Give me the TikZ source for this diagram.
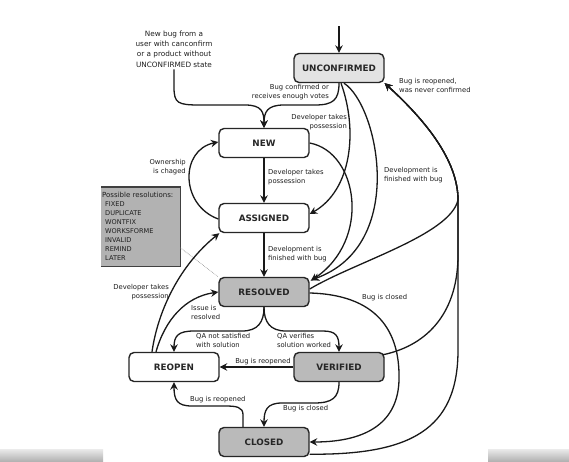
\documentclass[tikz,border=0pt]{standalone}
\usepackage{fontspec}
\setmainfont{DejaVu Sans}
\usetikzlibrary{arrows.meta}
\begin{document}
\begin{tikzpicture}[x=1pt,y=-1pt,
  state/.style={draw=black!85, line width=1.4pt, rounded corners=5pt, minimum width=90pt, minimum height=29pt, font=\fontsize{8.8}{10}\selectfont\bfseries, inner sep=0pt, text=black!85},
  light/.style={state, fill=black!11},
  dark/.style={state, fill=black!27},
  plain/.style={state, fill=white},
  edge/.style={draw=black!90, line width=1.3pt, -{Stealth[length=7.5pt,width=7.5pt,inset=2.5pt]}},
  lbl/.style={font=\fontsize{6.8}{9}\selectfont, text=black!88, inner sep=0pt},
]
\useasboundingbox (0,0) rectangle (569,461);
\fill[white] (0,0) rectangle (569,461);
\shade[top color=black!8, bottom color=black!30] (0,449) rectangle (103,461);
\shade[top color=black!8, bottom color=black!30] (488,449) rectangle (569,461);

% states
\node[light] (UNC) at (339,68) {UNCONFIRMED};
\node[plain] (NEW) at (264,143) {NEW};
\node[plain] (ASG) at (264,218) {ASSIGNED};
\node[dark]  (RES) at (264,292) {RESOLVED};
\node[plain] (REO) at (174,367) {REOPEN};
\node[dark]  (VER) at (339,367) {VERIFIED};
\node[dark]  (CLO) at (264,442) {CLOSED};

% resolutions box
\node[fill=black!30, minimum width=79pt, minimum height=79pt, anchor=north west, inner xsep=1pt, inner ysep=0pt, text width=77pt, align=left, font=\fontsize{6.6}{9}\selectfont, text=black!88] (resbox) at (101,187)
  {{\fontsize{7}{10}\selectfont Possible resolutions:}\\
   \hspace*{3pt}FIXED\\ \hspace*{3pt}DUPLICATE\\ \hspace*{3pt}WONTFIX\\ \hspace*{3pt}WORKSFORME\\
   \hspace*{3pt}INVALID\\ \hspace*{3pt}REMIND\\ \hspace*{3pt}LATER};
\draw[line width=1.3pt, black!75] (resbox.north west) -- (resbox.north east) -- (resbox.south east) -- (resbox.south west);
\draw[densely dotted, black!50, line width=0.6pt] (resbox.-28) -- (RES.north west);

% entry
\coordinate (entry) at (339,26);
\draw[edge] (entry) -- (UNC.north);

\node[lbl, font=\fontsize{7.3}{10.2}\selectfont, align=center] (nb) at (174,49)
  {New bug from a\\user with canconfirm\\or a product without\\UNCONFIRMED state};
\draw[edge] ([yshift=-2pt]nb.south) -- ++(0,18) .. controls +(0,16) and (178,105) .. (200,105) -- (245,105) .. controls (262,105) and (264,112) .. (NEW.north);

% UNCONFIRMED -> NEW
\draw[edge] (UNC.south) .. controls (339,100) and (333,105) .. (315,105) -- (284,105) .. controls (267,105) and (264,112) .. (NEW.north);
\node[lbl, align=right, anchor=east] at (329,92.5) {Bug confirmed or\\receives enough votes};

% UNCONFIRMED -> ASSIGNED
\draw[edge] ([xshift=2pt]UNC.south) .. controls (358,130) and (352,190) .. ([yshift=4pt]ASG.east);
\node[lbl, align=right, anchor=east] at (347,122) {Developer takes\\possession};

% UNCONFIRMED -> RESOLVED
\draw[edge] ([xshift=5pt]UNC.south) .. controls (378,105) and (408,245) .. ([xshift=2pt,yshift=-3pt]RES.north east);
\node[lbl, align=left, anchor=west] at (384,175) {Development is\\finished with bug};

% NEW -> RESOLVED
\draw[edge] (NEW.east) .. controls (358,152) and (372,240) .. ([xshift=1pt,yshift=-4pt]RES.north east);

% NEW -> ASSIGNED
\draw[edge] (NEW) -- (ASG);
\node[lbl, align=left, anchor=west] at (268,177.5) {Developer takes\\possession};

% ASSIGNED -> RESOLVED
\draw[edge] (ASG) -- (RES);
\node[lbl, align=left, anchor=west] at (268,254.5) {Development is\\finished with bug};

% ASSIGNED -> NEW
\draw[edge] ([yshift=-1pt]ASG.west) .. controls (180,205) and (180,150) .. ([yshift=1pt]NEW.west);
\node[lbl, align=right, anchor=east] at (186,167.5) {Ownership\\is chaged};

% REOPEN -> ASSIGNED
\draw[edge] ([xshift=-22pt]REO.north) .. controls (158,310) and (180,265) .. ([xshift=1pt]ASG.south west);
\node[lbl, align=right, anchor=east] at (169,292) {Developer takes\\possession};

% REOPEN -> RESOLVED
\draw[edge] ([xshift=-18pt]REO.north) .. controls (165,320) and (185,297) .. (RES.west);
\node[lbl, align=left, anchor=west] at (191,312) {Issue is\\resolved};

% RESOLVED -> REOPEN / VERIFIED
\draw[edge] (RES.south) .. controls (264,322) and (258,331) .. (242,331) -- (194,331) .. controls (178,331) and (174,336) .. (REO.north);
\node[lbl, align=left, anchor=west] at (196,340) {QA not satisfied\\with solution};
\draw[edge] (RES.south) .. controls (264,322) and (270,331) .. (286,331) -- (323,331) .. controls (336,331) and (339,336) .. (VER.north);
\node[lbl, align=left, anchor=west] at (277,340) {QA verifies\\solution worked};

% VERIFIED -> REOPEN
\draw[edge] (VER) -- (REO);
\node[lbl, anchor=south] at (263,365) {Bug is reopened};

% VERIFIED -> CLOSED
\draw[edge] (VER.south) .. controls (339,398) and (332,403) .. (314,403) -- (282,403) .. controls (267,403) and (264,410) .. (CLO.north);
\node[lbl, anchor=west] at (283,409) {Bug is closed};

% CLOSED -> REOPEN
\draw[edge] ([xshift=-21pt]CLO.north) -- ++(0,-12) .. controls +(0,-8) and (236,406) .. (225,406) -- (192,406) .. controls (177,406) and (174,400) .. (REO.south);
\node[lbl, anchor=west] at (190,400) {Bug is reopened};

% RESOLVED -> CLOSED
\draw[edge] ([yshift=-1pt]RES.east) .. controls (385,295) and (400,340) .. (399,380) .. controls (398,420) and (370,442) .. (CLO.east);
\node[lbl, anchor=west] at (362,298) {Bug is closed};

% reopened, never confirmed -> UNCONFIRMED
\draw[edge] ([yshift=3pt]RES.east) .. controls (355,262) and (450,235) .. (458,200) .. controls (458,160) and (425,120) .. (UNC.south east);
\draw[edge] ([xshift=-2pt,yshift=-3pt]VER.north east) .. controls (430,345) and (458,310) .. (458,255) -- (458,200) .. controls (458,160) and (425,120) .. (UNC.south east);
\draw[edge] ([yshift=3pt]CLO.south east) .. controls (410,455) and (458,430) .. (458,350) -- (458,200) .. controls (458,160) and (425,120) .. (UNC.south east);
\node[lbl, align=left, anchor=west] at (399,85.5) {Bug is reopened,\\was never confirmed};
\end{tikzpicture}
\end{document}
